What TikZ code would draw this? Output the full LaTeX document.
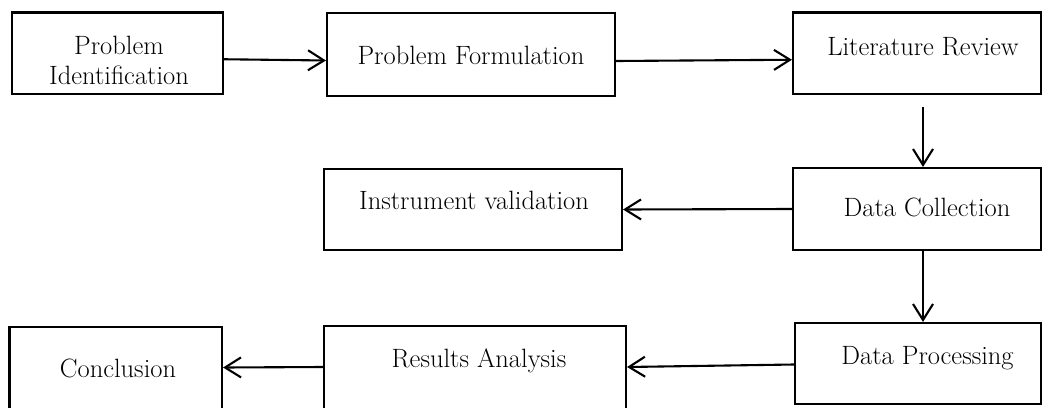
\documentclass[tikz,border=0pt]{standalone}
\usetikzlibrary{arrows.meta,calc}
\begin{document}
\begin{tikzpicture}[x=1pt,y=-1pt,
  stepbox/.style={draw=black,line width=2.1pt,fill=white,inner sep=0pt,minimum width=#1},
  lbl/.style={font=\fontsize{26.5}{30}\selectfont,align=center,inner sep=0pt},
  conn/.style={line width=2.1pt,-{Straight Barb[length=16pt,width=20pt,line width=2.1pt]}}]
\useasboundingbox (0,0) rectangle (1046,407);
% boxes
\node[stepbox=211pt,minimum height=81.5pt] (pi) at (117.5,53.25) {};
\node[stepbox=288pt,minimum height=83pt] (pf) at (471,54.5) {};
\node[stepbox=248pt,minimum height=81.5pt] (lr) at (917,53.25) {};
\node[stepbox=248pt,minimum height=82pt] (dc) at (917,209) {};
\node[stepbox=298pt,minimum height=81pt] (iv) at (473,209.5) {};
\node[stepbox=246pt,minimum height=81pt] (dp) at (918,363.5) {};
\node[stepbox=302pt,minimum height=88pt] (ra) at (475,370) {};
\node[stepbox=212.5pt,minimum height=87pt] (co) at (115.75,370.5) {};
% labels
\node[lbl] (tpi) at (119,60) {Problem\\Identification};
\node[lbl] (tpf) at (471,55) {Problem Formulation};
\node[lbl] (tlr) at (923,47) {Literature Review};
\node[lbl] (tdc) at (927,207) {Data Collection};
\node[lbl] (tiv) at (474,200) {Instrument validation};
\node[lbl] (tdp) at (927.5,358) {Data Processing};
\node[lbl] (tra) at (479,361) {Results Analysis};
\node[lbl] (tco) at (118,368) {Conclusion};
% connectors
\draw[conn] ([yshift=-6pt]pi.east) -- ([yshift=-6pt]pf.west);
\draw[conn] ([yshift=-6.5pt]pf.east) -- ([yshift=-6.5pt]lr.west);
\draw[conn,shorten <=12pt] ([xshift=6pt]lr.south) -- ([xshift=6pt]dc.north);
\draw[conn] (dc.west) -- (iv.east);
\draw[conn] ([xshift=6pt]dc.south) -- ([xshift=5pt]dp.north);
\draw[conn] ([yshift=-1pt]dp.west) -- ([yshift=3pt]ra.east);
\draw[conn] ([yshift=3pt]ra.west) -- ([yshift=3pt]co.east);
\end{tikzpicture}
\end{document}
